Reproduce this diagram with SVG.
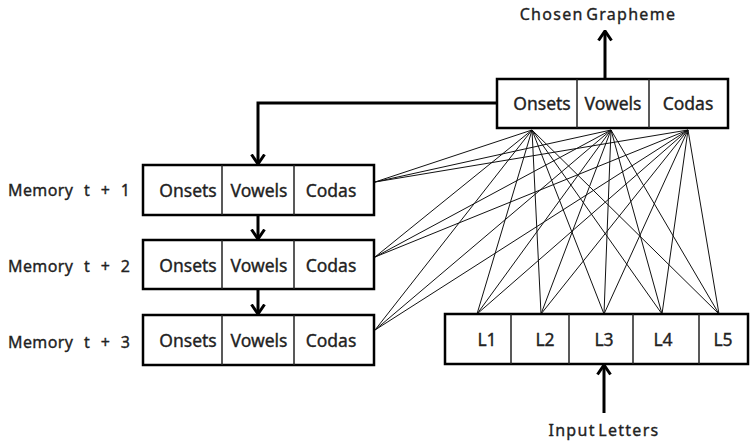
<svg xmlns="http://www.w3.org/2000/svg" width="756" height="442" viewBox="0 0 756 442">
<defs>
<style>
.box{fill:#fff;stroke:#000;stroke-width:2.5}
.div{stroke:#222;stroke-width:1.5}
.t{font-family:"Noto Sans","Open Sans","Liberation Sans",sans-serif;font-size:17.5px;fill:#222;stroke:#222;stroke-width:0.35;text-anchor:middle}
.lbl{font-family:"Noto Sans","Open Sans","Liberation Sans",sans-serif;font-size:16px;fill:#222;stroke:#222;stroke-width:0.35}
.arr{stroke:#000;stroke-width:3;fill:none;marker-end:url(#ah)}
.ln{stroke:#111;stroke-width:1;fill:none}
</style>
<marker id="ah" viewBox="0 0 12 16" refX="10.5" refY="8" markerWidth="12" markerHeight="16" markerUnits="userSpaceOnUse" orient="auto">
<path d="M1,1.5 L10.5,8 L1,14.5" fill="none" stroke="#000" stroke-width="3"/>
</marker>
</defs>

<g id="connectors">
<g class="ln">
<line x1="532" y1="130" x2="375" y2="182"/>
<line x1="611" y1="130" x2="375" y2="182"/>
<line x1="688" y1="130" x2="375" y2="182"/>
<line x1="532" y1="130" x2="375" y2="257"/>
<line x1="611" y1="130" x2="375" y2="257"/>
<line x1="688" y1="130" x2="375" y2="257"/>
<line x1="532" y1="130" x2="375" y2="330"/>
<line x1="611" y1="130" x2="375" y2="330"/>
<line x1="688" y1="130" x2="375" y2="330"/>
<line x1="532" y1="130" x2="477" y2="314"/>
<line x1="532" y1="130" x2="541" y2="314"/>
<line x1="532" y1="130" x2="604" y2="314"/>
<line x1="532" y1="130" x2="662" y2="314"/>
<line x1="532" y1="130" x2="719" y2="314"/>
<line x1="611" y1="130" x2="477" y2="314"/>
<line x1="611" y1="130" x2="541" y2="314"/>
<line x1="611" y1="130" x2="604" y2="314"/>
<line x1="611" y1="130" x2="662" y2="314"/>
<line x1="611" y1="130" x2="719" y2="314"/>
<line x1="688" y1="130" x2="477" y2="314"/>
<line x1="688" y1="130" x2="541" y2="314"/>
<line x1="688" y1="130" x2="604" y2="314"/>
<line x1="688" y1="130" x2="662" y2="314"/>
<line x1="688" y1="130" x2="719" y2="314"/>
</g>
<line class="arr" x1="605" y1="79" x2="605" y2="31"/>
<line class="arr" x1="604" y1="413" x2="604" y2="365"/>
<path class="arr" d="M497,103 H258 V164"/>
<line class="arr" x1="258" y1="215" x2="258" y2="239"/>
<line class="arr" x1="258" y1="289" x2="258" y2="314"/>
</g>

<g id="chosen-grapheme-label">
<text class="lbl" x="598" y="20" text-anchor="middle" font-size="17" word-spacing="-3" letter-spacing="1.3">Chosen Grapheme</text>
</g>

<g id="output-layer">
<rect class="box" x="497" y="79" width="231" height="49"/>
<line class="div" x1="577" y1="79" x2="577" y2="128"/>
<line class="div" x1="649" y1="79" x2="649" y2="128"/>
<text class="t" x="542" y="110">Onsets</text>
<text class="t" x="613" y="110">Vowels</text>
<text class="t" x="688" y="110">Codas</text>
</g>

<g id="memory-1">
<text class="lbl" x="8" y="196" word-spacing="6" letter-spacing="0.4">Memory t + 1</text>
<rect class="box" x="143" y="165" width="231" height="50"/>
<line class="div" x1="222" y1="165" x2="222" y2="215"/>
<line class="div" x1="294" y1="165" x2="294" y2="215"/>
<text class="t" x="188" y="197">Onsets</text>
<text class="t" x="259" y="197">Vowels</text>
<text class="t" x="331" y="197">Codas</text>
</g>

<g id="memory-2">
<text class="lbl" x="8" y="272" word-spacing="6" letter-spacing="0.4">Memory t + 2</text>
<rect class="box" x="143" y="240" width="231" height="49"/>
<line class="div" x1="222" y1="240" x2="222" y2="289"/>
<line class="div" x1="294" y1="240" x2="294" y2="289"/>
<text class="t" x="188" y="272">Onsets</text>
<text class="t" x="259" y="272">Vowels</text>
<text class="t" x="331" y="272">Codas</text>
</g>

<g id="memory-3">
<text class="lbl" x="8" y="348" word-spacing="6" letter-spacing="0.4">Memory t + 3</text>
<rect class="box" x="143" y="315" width="231" height="50"/>
<line class="div" x1="222" y1="315" x2="222" y2="365"/>
<line class="div" x1="294" y1="315" x2="294" y2="365"/>
<text class="t" x="188" y="347">Onsets</text>
<text class="t" x="259" y="347">Vowels</text>
<text class="t" x="331" y="347">Codas</text>
</g>

<g id="input-layer">
<rect class="box" x="445" y="314" width="303" height="50"/>
<line class="div" x1="511" y1="314" x2="511" y2="364"/>
<line class="div" x1="569" y1="314" x2="569" y2="364"/>
<line class="div" x1="633" y1="314" x2="633" y2="364"/>
<line class="div" x1="699" y1="314" x2="699" y2="364"/>
<text class="t" x="487" y="346" font-size="16.5">L1</text>
<text class="t" x="545" y="346" font-size="16.5">L2</text>
<text class="t" x="604" y="346" font-size="16.5">L3</text>
<text class="t" x="663" y="346" font-size="16.5">L4</text>
<text class="t" x="723" y="346" font-size="16.5">L5</text>
</g>

<g id="input-letters-label">
<text class="lbl" x="604" y="436" text-anchor="middle" font-size="17" word-spacing="-3" letter-spacing="1.3">Input Letters</text>
</g>
</svg>
